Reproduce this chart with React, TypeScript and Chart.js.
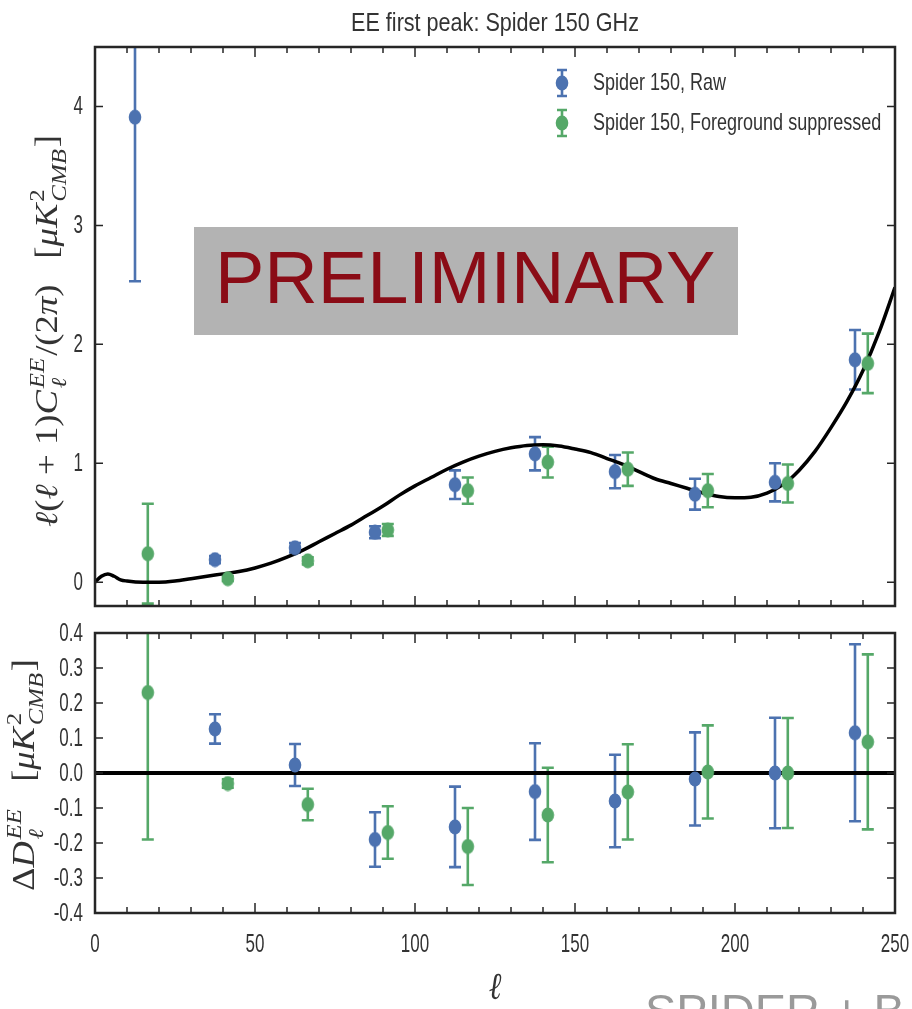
import React, { useEffect, useRef } from 'react';
import { Chart, registerables } from 'chart.js';
Chart.register(...registerables);

// ---------- data ----------
const ellRaw = [12.5, 37.5, 62.5, 87.5, 112.5, 137.5, 162.5, 187.5, 212.5, 237.5];
const ellFg = [16.5, 41.5, 66.5, 91.5, 116.5, 141.5, 166.5, 191.5, 216.5, 241.5];
const rawD = [3.91, 0.19, 0.29, 0.42, 0.82, 1.08, 0.93, 0.74, 0.84, 1.87];
const rawErr = [1.38, 0.03, 0.04, 0.05, 0.12, 0.14, 0.14, 0.13, 0.16, 0.25];
const fgD = [0.24, 0.03, 0.18, 0.44, 0.77, 1.01, 0.95, 0.77, 0.83, 1.84];
const fgErr = [0.42, 0.02, 0.03, 0.05, 0.11, 0.13, 0.14, 0.14, 0.16, 0.25];

const rawRes = [null, 0.126, 0.023, -0.19, -0.154, -0.053, -0.08, -0.017, 0.0, 0.115];
const rawResErr = [null, 0.042, 0.06, 0.078, 0.115, 0.138, 0.132, 0.133, 0.158, 0.253];
const fgRes = [0.23, -0.03, -0.09, -0.17, -0.21, -0.12, -0.054, 0.003, 0.0, 0.089];
const fgResErr = [0.42, 0.012, 0.045, 0.075, 0.11, 0.135, 0.136, 0.133, 0.157, 0.25];

const theoryEll = [0, 2, 4, 6, 8, 10, 15, 20, 25, 30, 35, 40, 45, 50, 55, 60, 65, 70, 75, 80, 85, 90, 95, 100, 105, 110, 115, 120, 125, 130, 135, 140, 145, 150, 155, 160, 165, 170, 175, 180, 185, 190, 195, 200, 205, 210, 215, 220, 225, 230, 235, 240, 245, 250];
const theoryD = [0.0, 0.05, 0.07, 0.05, 0.02, 0.01, 0.0, 0.0, 0.01, 0.03, 0.05, 0.07, 0.09, 0.12, 0.16, 0.21, 0.27, 0.34, 0.41, 0.48, 0.56, 0.64, 0.73, 0.81, 0.88, 0.95, 1.01, 1.06, 1.10, 1.13, 1.15, 1.155, 1.145, 1.12, 1.09, 1.04, 0.99, 0.93, 0.87, 0.83, 0.79, 0.75, 0.72, 0.71, 0.715, 0.75, 0.82, 0.94, 1.10, 1.30, 1.52, 1.78, 2.10, 2.48];

const xMajorTicks = [0, 50, 100, 150, 200, 250];
const xMinorTicks = [10, 20, 30, 40, 60, 70, 80, 90, 110, 120, 130, 140, 160, 170, 180, 190, 210, 220, 230, 240];
const xTickLabels = ['0', '50', '100', '150', '200', '250'];
const topYTicks = [0, 1, 2, 3, 4];
const topYTickLabels = ['0', '1', '2', '3', '4'];
const resYTicks = [-0.4, -0.3, -0.2, -0.1, 0, 0.1, 0.2, 0.3, 0.4];
const resYTickLabels = ['-0.4', '-0.3', '-0.2', '-0.1', '0.0', '0.1', '0.2', '0.3', '0.4'];

const TITLE = 'EE first peak: Spider 150 GHz';
const LEGEND_RAW = 'Spider 150, Raw';
const LEGEND_FG = 'Spider 150, Foreground suppressed';

const BLUE = '#4C72B0';
const GREEN = '#55A868';
const SANS = "'Liberation Sans', Arial, sans-serif";
const SERIF = "'Liberation Serif', 'DejaVu Serif', serif";
const TXT = '#333333';
const FRAME = '#262626';

// ---------- helpers ----------
function drawText(ctx: any, text: string, x: number, y: number, size: number, family: string, sx: number, align: string, color: string, baseline = 'middle', style = '') {
  ctx.save();
  ctx.translate(x, y);
  ctx.scale(sx, 1);
  ctx.font = `${style} ${size}px ${family}`;
  ctx.textAlign = align;
  ctx.textBaseline = baseline;
  ctx.fillStyle = color;
  ctx.fillText(text, 0, 0);
  ctx.restore();
}

function ellipseMarker(color: string) {
  const c = document.createElement('canvas');
  c.width = 14; c.height = 16;
  const g = c.getContext('2d') as CanvasRenderingContext2D;
  g.fillStyle = color;
  g.beginPath();
  g.ellipse(7, 8, 6.3, 7.6, 0, 0, Math.PI * 2);
  g.fill();
  return c;
}

type Seg = { t?: string; it?: boolean; sup?: string; sub?: string; supUp?: boolean; gap?: number };

function drawMath(ctx: any, segs: Seg[], cx: number, cy: number, targetLen: number, squeeze: number, color: string) {
  const fontFor = (it: boolean, s: number) => `${it ? 'italic ' : ''}${s}px ${SERIF}`;
  const measure = (size: number) => {
    const small = size * 0.68;
    return segs.map(sg => {
      if (sg.gap) return sg.gap * size;
      if (sg.t !== undefined) { ctx.font = fontFor(!!sg.it, size); return ctx.measureText(sg.t).width; }
      ctx.font = fontFor(!sg.supUp, small);
      const a = ctx.measureText(sg.sup || '').width;
      ctx.font = fontFor(true, small);
      const b = ctx.measureText(sg.sub || '').width;
      return Math.max(a, b) + size * 0.1;
    });
  };
  ctx.save();
  const w0 = measure(30).reduce((a, b) => a + b, 0);
  const size = 30 * targetLen / w0;
  const widths = measure(size);
  const total = widths.reduce((a, b) => a + b, 0);
  const small = size * 0.68;
  ctx.translate(cx, cy);
  ctx.rotate(-Math.PI / 2);
  ctx.scale(1, squeeze);
  ctx.fillStyle = color;
  ctx.textBaseline = 'alphabetic';
  ctx.textAlign = 'left';
  let x = -total / 2;
  const base = size * 0.3;
  segs.forEach((sg, i) => {
    if (sg.t !== undefined) {
      ctx.font = fontFor(!!sg.it, size);
      ctx.fillText(sg.t, x, base);
    } else if (!sg.gap) {
      if (sg.sup) { ctx.font = fontFor(!sg.supUp, small); ctx.fillText(sg.sup, x + size * 0.05, base - size * 0.42); }
      if (sg.sub) { ctx.font = fontFor(true, small); ctx.fillText(sg.sub, x + size * 0.05, base + size * 0.26); }
    }
    x += widths[i];
  });
  ctx.restore();
}

const TICK_SIZE = 25;
const TICK_SX = 0.68;

function drawFrame(chart: any, yTicks: number[], yLabels: string[], showXLabels: boolean) {
  const { ctx, chartArea: a, scales } = chart;
  const xs = scales.x, ys = scales.y;
  ctx.save();
  ctx.strokeStyle = FRAME;
  ctx.lineWidth = 1.5;
  ctx.beginPath();
  const seg = (x1: number, y1: number, x2: number, y2: number) => { ctx.moveTo(x1, y1); ctx.lineTo(x2, y2); };
  xMajorTicks.forEach(v => { const p = xs.getPixelForValue(v); seg(p, a.bottom, p, a.bottom - 10); seg(p, a.top, p, a.top + 10); });
  xMinorTicks.forEach(v => { const p = xs.getPixelForValue(v); seg(p, a.bottom, p, a.bottom - 6); seg(p, a.top, p, a.top + 6); });
  yTicks.forEach(v => { const p = ys.getPixelForValue(v); seg(a.left, p, a.left + 8, p); seg(a.right, p, a.right - 8, p); });
  ctx.stroke();
  ctx.lineWidth = 2.5;
  ctx.strokeRect(a.left, a.top, a.right - a.left, a.bottom - a.top);
  ctx.restore();
  yTicks.forEach((v, i) => drawText(ctx, yLabels[i], a.left - 12, ys.getPixelForValue(v) + 1, TICK_SIZE, SANS, TICK_SX, 'right', TXT));
  if (showXLabels) {
    xMajorTicks.forEach((v, i) => drawText(ctx, xTickLabels[i], xs.getPixelForValue(v), a.bottom + 32, TICK_SIZE, SANS, TICK_SX, 'center', TXT));
  }
}

const errorBarPlugin = {
  id: 'errorBars',
  beforeDatasetsDraw(chart: any) {
    const { ctx, chartArea: a } = chart;
    const ys = chart.scales.y;
    ctx.save();
    ctx.beginPath();
    ctx.rect(a.left, a.top, a.right - a.left, a.bottom - a.top);
    ctx.clip();
    chart.data.datasets.forEach((ds: any, i: number) => {
      if (!ds.hasErrors) return;
      const meta = chart.getDatasetMeta(i);
      ctx.strokeStyle = ds.borderColor;
      ctx.lineWidth = 2.6;
      meta.data.forEach((el: any, j: number) => {
        const p = ds.data[j];
        const y1 = ys.getPixelForValue(p.y + p.e);
        const y2 = ys.getPixelForValue(p.y - p.e);
        const x = el.x;
        ctx.beginPath();
        ctx.moveTo(x, y1); ctx.lineTo(x, y2);
        ctx.moveTo(x - 6, y1); ctx.lineTo(x + 6, y1);
        ctx.moveTo(x - 6, y2); ctx.lineTo(x + 6, y2);
        ctx.stroke();
      });
    });
    ctx.restore();
  },
};

function pts(ell: number[], vals: (number | null)[], errs: (number | null)[]) {
  return ell.map((x, i) => ({ x, y: vals[i], e: errs[i] })).filter(p => p.y !== null);
}

function drawLegendItem(ctx: any, x: number, y: number, color: string, label: string) {
  ctx.save();
  ctx.strokeStyle = color;
  ctx.fillStyle = color;
  ctx.lineWidth = 2.6;
  ctx.beginPath();
  ctx.moveTo(x, y - 13); ctx.lineTo(x, y + 13);
  ctx.moveTo(x - 5, y - 13); ctx.lineTo(x + 5, y - 13);
  ctx.moveTo(x - 5, y + 13); ctx.lineTo(x + 5, y + 13);
  ctx.stroke();
  ctx.beginPath();
  ctx.ellipse(x, y, 6.3, 7.6, 0, 0, Math.PI * 2);
  ctx.fill();
  ctx.restore();
  drawText(ctx, label, x + 31, y, 24, SANS, 0.75, 'left', TXT);
}

const topLabel: Seg[] = [
  { t: 'ℓ', it: true }, { t: '(' }, { t: 'ℓ', it: true }, { t: ' + 1)' }, { t: 'C', it: true },
  { sup: 'EE', sub: 'ℓ' }, { t: '/(2' }, { t: 'π', it: true }, { t: ')' }, { gap: 0.7 },
  { t: '[' }, { t: 'μK', it: true }, { sup: '2', sub: 'CMB', supUp: true }, { t: ']' },
];
const botLabel: Seg[] = [
  { t: 'Δ' }, { t: 'D', it: true }, { sup: 'EE', sub: 'ℓ' }, { gap: 0.7 },
  { t: '[' }, { t: 'μK', it: true }, { sup: '2', sub: 'CMB', supUp: true }, { t: ']' },
];

export default function App() {
  const topRef = useRef<HTMLCanvasElement>(null);
  const botRef = useRef<HTMLCanvasElement>(null);

  useEffect(() => {
    const blueMk = ellipseMarker(BLUE);
    const greenMk = ellipseMarker(GREEN);
    const common = (padding: any) => ({
      animation: false as const,
      responsive: false,
      devicePixelRatio: 1,
      layout: { padding },
      plugins: { legend: { display: false }, tooltip: { enabled: false }, title: { display: false } },
    });

    const topDecor = {
      id: 'topDecor',
      afterDatasetsDraw(chart: any) { drawFrame(chart, topYTicks, topYTickLabels, false); },
      afterDraw(chart: any) {
        const { ctx, chartArea: a } = chart;
        drawText(ctx, TITLE, (a.left + a.right) / 2, 24, 26, SANS, 0.83, 'center', TXT);
        drawLegendItem(ctx, 562, 83, BLUE, LEGEND_RAW);
        drawLegendItem(ctx, 562, 123, GREEN, LEGEND_FG);
        ctx.save();
        ctx.fillStyle = '#b3b3b3';
        ctx.fillRect(194, 227, 544, 108);
        ctx.restore();
        drawText(ctx, 'PRELIMINARY', 215, 303, 74, SANS, 1.0, 'left', '#8a0c16', 'alphabetic');
        drawMath(ctx, topLabel, 48, 331, 392, 0.86, TXT);
      },
    };

    const top = new Chart(topRef.current as HTMLCanvasElement, {
      type: 'scatter',
      data: {
        datasets: [
          { label: LEGEND_RAW, data: pts(ellRaw, rawD, rawErr), backgroundColor: BLUE, borderColor: BLUE, pointStyle: blueMk, borderWidth: 0, hasErrors: true } as any,
          { label: LEGEND_FG, data: pts(ellFg, fgD, fgErr), backgroundColor: GREEN, borderColor: GREEN, pointStyle: greenMk, borderWidth: 0, hasErrors: true } as any,
          { label: 'theory', data: theoryEll.map((x, i) => ({ x, y: theoryD[i] })), showLine: true, borderColor: '#000', borderWidth: 3.5, pointRadius: 0, cubicInterpolationMode: 'monotone', fill: false } as any,
        ],
      },
      options: {
        ...common({ left: 95, right: 17, top: 47, bottom: 14 }),
        scales: {
          x: { type: 'linear', min: 0, max: 250, display: false },
          y: { type: 'linear', min: -0.2, max: 4.5, display: false },
        },
      } as any,
      plugins: [errorBarPlugin, topDecor],
    });

    const botDecor = {
      id: 'botDecor',
      afterDatasetsDraw(chart: any) { drawFrame(chart, resYTicks, resYTickLabels, true); },
      afterDraw(chart: any) {
        const { ctx, chartArea: a } = chart;
        drawMath(ctx, botLabel, 25, 775 - 620, 232, 0.86, TXT);
        drawText(ctx, 'ℓ', (a.left + a.right) / 2, 999 - 620, 38, SERIF, 0.8, 'center', TXT, 'alphabetic', 'italic');
        drawText(ctx, 'SPIDER + B', 645, 1027 - 620, 47, SANS, 1.0, 'left', '#9a9a9a', 'alphabetic');
      },
    };

    const bot = new Chart(botRef.current as HTMLCanvasElement, {
      type: 'scatter',
      data: {
        datasets: [
          { label: LEGEND_RAW, data: pts(ellRaw, rawRes, rawResErr), backgroundColor: BLUE, borderColor: BLUE, pointStyle: blueMk, borderWidth: 0, hasErrors: true } as any,
          { label: LEGEND_FG, data: pts(ellFg, fgRes, fgResErr), backgroundColor: GREEN, borderColor: GREEN, pointStyle: greenMk, borderWidth: 0, hasErrors: true } as any,
          { label: 'zero', data: [{ x: 0, y: 0 }, { x: 250, y: 0 }], showLine: true, borderColor: '#000', borderWidth: 4, pointRadius: 0, fill: false } as any,
        ],
      },
      options: {
        ...common({ left: 95, right: 17, top: 13, bottom: 96 }),
        scales: {
          x: { type: 'linear', min: 0, max: 250, display: false },
          y: { type: 'linear', min: -0.4, max: 0.4, display: false },
        },
      } as any,
      plugins: [errorBarPlugin, botDecor],
    });

    return () => { top.destroy(); bot.destroy(); };
  }, []);

  return (
    <div style={{ position: 'absolute', left: 0, top: 0, width: 912, height: 1009, background: '#fff', overflow: 'hidden' }}>
      <canvas ref={topRef} width={912} height={620} style={{ position: 'absolute', left: 0, top: 0, width: 912, height: 620, display: 'block' }} />
      <canvas ref={botRef} width={912} height={389} style={{ position: 'absolute', left: 0, top: 620, width: 912, height: 389, display: 'block' }} />
    </div>
  );
}
